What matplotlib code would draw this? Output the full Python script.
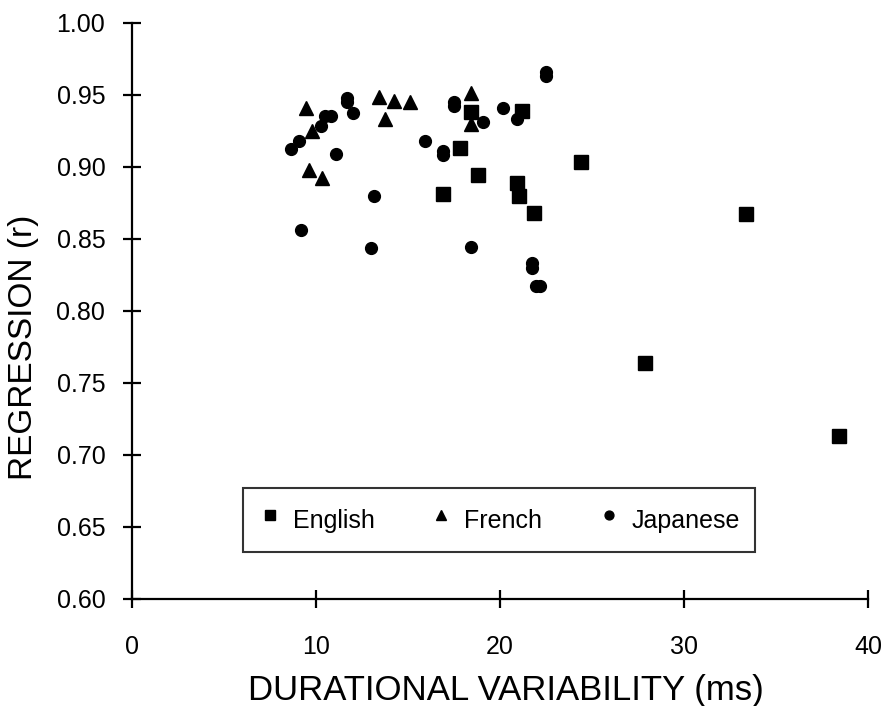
import matplotlib
matplotlib.use("Agg")
import matplotlib.pyplot as plt

plt.rcParams["font.family"] = ["Liberation Sans", "DejaVu Sans"]

# values
english_x = [16.9, 17.8, 18.4, 18.8, 20.9, 21.05, 21.2, 21.85, 24.4, 27.9, 33.35, 38.45]
english_y = [0.881, 0.913, 0.938, 0.894, 0.8885, 0.880, 0.939, 0.868, 0.9035, 0.764, 0.8675, 0.713]

french_x = [9.45, 9.8, 9.6, 10.3, 13.4, 13.75, 14.25, 15.1, 18.45, 18.4]
french_y = [0.941, 0.925, 0.898, 0.8925, 0.9485, 0.9335, 0.9455, 0.945, 0.951, 0.930]

japanese_x = [8.65, 9.05, 9.2, 10.25, 10.5, 10.8, 11.1, 11.7, 11.7, 12.0, 13.15,
              13.0, 15.9, 16.9, 16.9, 17.5, 17.5, 18.45, 19.1, 20.15, 20.9,
              21.75, 21.75, 21.95, 22.15, 22.5, 22.5]
japanese_y = [0.9125, 0.918, 0.856, 0.928, 0.935, 0.935, 0.909, 0.948, 0.945, 0.937, 0.880,
              0.8435, 0.918, 0.911, 0.908, 0.945, 0.942, 0.844, 0.931, 0.941, 0.9335,
              0.833, 0.830, 0.8175, 0.8175, 0.9655, 0.963]

x_ticks = [0, 10, 20, 30, 40]
y_ticks = [0.60, 0.65, 0.70, 0.75, 0.80, 0.85, 0.90, 0.95, 1.00]

fig = plt.figure(figsize=(8.83, 7.06), dpi=100)
ax = fig.add_axes([132 / 883, 107 / 706, 736 / 883, 576.3 / 706])

ax.plot(english_x, english_y, ls="none", marker="s", ms=9.5, color="black",
        label="English", clip_on=False)
ax.plot(french_x, french_y, ls="none", marker="^", ms=10, color="black",
        label="French", clip_on=False)
ax.plot(japanese_x, japanese_y, ls="none", marker="o", ms=8.5, color="black",
        label="Japanese", clip_on=False)

ax.set_xlim(0, 40)
ax.set_ylim(0.60, 1.00)
ax.set_xticks(x_ticks)
ax.set_yticks(y_ticks)
ax.set_yticklabels([f"{v:.2f}" for v in y_ticks])

for side in ["top", "right"]:
    ax.spines[side].set_visible(False)
for side in ["left", "bottom"]:
    ax.spines[side].set_linewidth(1.6)

ax.tick_params(axis="both", direction="inout", length=13.5, width=1.6, labelsize=18)
ax.tick_params(axis="x", pad=19)
ax.tick_params(axis="y", pad=12.5)

ax.set_xlabel("DURATIONAL VARIABILITY (ms)", fontsize=25, va="top")
ax.xaxis.set_label_coords(0.508, -0.13)
ax.set_ylabel("REGRESSION (r)", fontsize=24, va="center")
ax.yaxis.set_label_coords(-0.147, 0.437)

leg = ax.legend(loc="center", ncol=3, mode="expand",
                bbox_to_anchor=(0.151, 0.075, 0.695, 0.125),
                fontsize=18, markerscale=0.75, frameon=True, fancybox=False,
                handlelength=1.0, handleheight=1.8, handletextpad=0.42,
                borderpad=0.58, borderaxespad=0)
leg.get_frame().set_edgecolor("black")
leg.get_frame().set_linewidth(1.5)

fig.savefig("out.png", dpi=100)
